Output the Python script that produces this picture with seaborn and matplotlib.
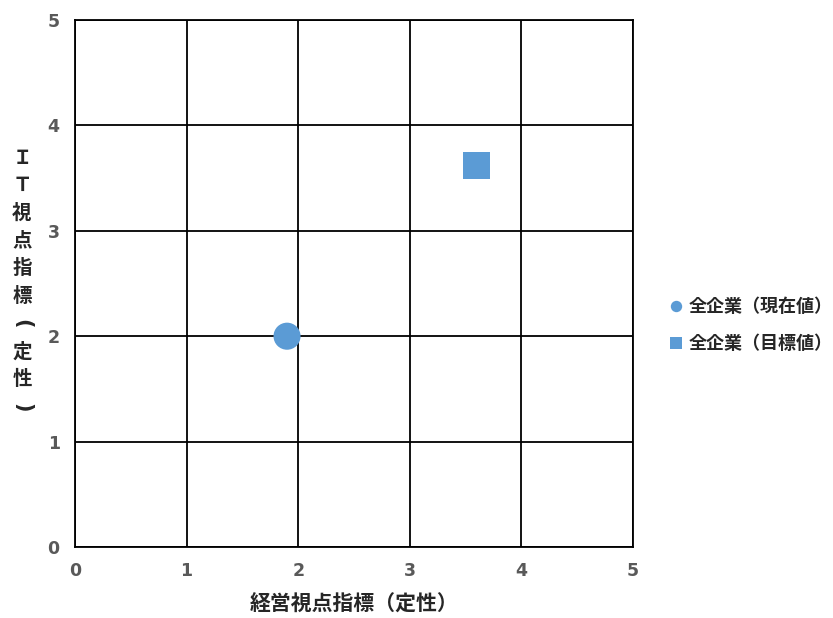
import pandas as pd
import matplotlib
matplotlib.use("Agg")
import matplotlib.pyplot as plt
import seaborn as sns

# data
series = ["全企業（現在値）", "全企業（目標値）"]
x_values = [1.9, 3.6]
y_values = [2.0, 3.62]
ticks = [0, 1, 2, 3, 4, 5]
x_title = "経営視点指標（定性）"
y_title_chars = ["Ｉ", "Ｔ", "視", "点", "指", "標", "（", "定", "性", "）"]

df = pd.DataFrame({"系列": series, "x": x_values, "y": y_values})

sns.set_style("white")
plt.rcParams['font.family'] = ['DejaVu Sans', 'Noto Sans CJK JP']

W, H = 833, 618
fig = plt.figure(figsize=(W / 100, H / 100), dpi=100)
ax = fig.add_axes([75 / W, 1 - 547 / H, 558 / W, 527 / H])

blue = "#5B9BD5"
sns.scatterplot(data=df, x="x", y="y", hue="系列", style="系列",
                markers={series[0]: "o", series[1]: "s"},
                palette={series[0]: blue, series[1]: blue},
                s=380, linewidth=0, ax=ax, zorder=3)

ax.set_xlim(0, 5)
ax.set_ylim(0, 5)
ax.set_xticks(ticks)
ax.set_yticks(ticks)
ax.grid(True, color="black", linewidth=1.3)
ax.set_axisbelow(True)
for sp in ax.spines.values():
    sp.set_visible(True)
    sp.set_color("black")
    sp.set_linewidth(1.3)

ax.tick_params(length=0, labelsize=12.5, labelcolor="#595959", pad=11)
for lbl in ax.get_xticklabels() + ax.get_yticklabels():
    lbl.set_fontweight("bold")

cjk = ['Noto Sans CJK JP', 'DejaVu Sans']
ax.set_xlabel(x_title, family=cjk, fontsize=15, fontweight="bold", labelpad=10)
ax.set_ylabel("")

# stacked vertical y title, one character at a time (brackets turned sideways)
for i, ch in enumerate(y_title_chars):
    if ch in "（）":
        fig.text(22 / W, 1 - (158 + 27.7 * i) / H, "(" if ch == "（" else ")",
                 family="DejaVu Sans", fontsize=15, fontweight="bold",
                 rotation=-90, ha="center", va="center")
    else:
        fig.text(22 / W, 1 - (158 + 27.7 * i) / H, ch, family=cjk, fontsize=14,
                 fontweight="bold", ha="center", va="center")

leg = ax.legend(loc="center left", bbox_to_anchor=(669 / W, 1 - 325 / H),
                bbox_transform=fig.transFigure, frameon=False,
                markerscale=0.42, handlelength=0.8, handletextpad=0.3,
                labelspacing=1.0, borderpad=0, borderaxespad=0,
                prop={"family": cjk, "weight": "bold", "size": 13})

fig.savefig("out.png", dpi=100)
